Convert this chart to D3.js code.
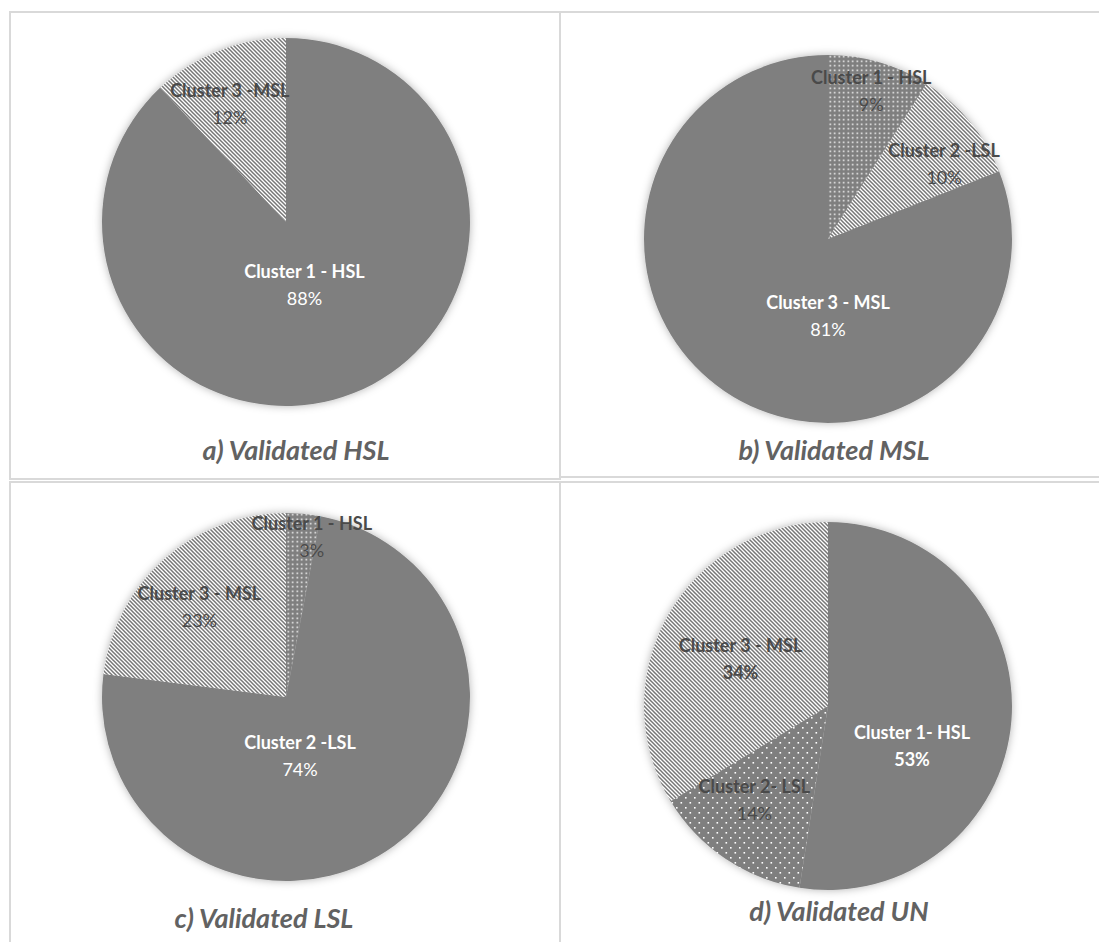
<!DOCTYPE html>
<html>
<head>
<meta charset="utf-8">
<script src="https://cdn.jsdelivr.net/npm/d3@7"></script>
<style>
  body { margin: 0; background: #fff; }
  svg text { font-family: Lato, "Open Sans", sans-serif; }
</style>
</head>
<body>
<div id="chart"></div>
<script>
// Data
const PANEL_TITLES = ["a) Validated HSL", "b) Validated MSL", "c) Validated LSL", "d) Validated UN"];
const SLICE_NAMES = [
    ["Cluster 1 - HSL", "Cluster 3 -MSL"],
    ["Cluster 1 - HSL", "Cluster 2 -LSL", "Cluster 3 - MSL"],
    ["Cluster 1 - HSL", "Cluster 2 -LSL", "Cluster  3 - MSL"],
    ["Cluster 1- HSL", "Cluster 2- LSL", "Cluster 3 - MSL"]
];
const SLICE_VALUES = [
    [88, 12],
    [9, 10, 81],
    [3, 74, 23],
    [53, 14, 34]
];
const SLICE_FILLS = [
    ["solid", "hatch"],
    ["dots", "hatch", "solid"],
    ["dots", "solid", "hatch"],
    ["solid", "dotsSparse", "hatch"]
];

// Layout
const FRAME_WIDTH = 1099;
const FRAME_HEIGHT = 942;
const RADIUS = 184;
const PANELS = [
    { cx: 286, cy: 222, tx: 296, ty: 460 },
    { cx: 828, cy: 239, tx: 834, ty: 460 },
    { cx: 286, cy: 697, tx: 264, ty: 928 },
    { cx: 828, cy: 706, tx: 839, ty: 921 }
];
// label anchor per slice: [angle in degrees clockwise from 12 o'clock, distance from centre]
const LABEL_ANCHORS = [
    [[163, 63], [-25, 133]],
    [[16, 157], [56, 140], [180, 74]],
    [[9, 165], [166, 58], [-43, 127]],
    [[114, 92], [219, 117], [300, 101]]
];
const PCT_BOLD = [
    [false, false],
    [false, false, false],
    [false, false, false],
    [true, false, true]
];

const SVG = d3.select("#chart")
    .append("svg")
    .attr("width", FRAME_WIDTH)
    .attr("height", FRAME_HEIGHT);

const defs = SVG.append("defs");

// diagonal hatch
const hatch = defs.append("pattern")
    .attr("id", "hatch")
    .attr("patternUnits", "userSpaceOnUse")
    .attr("width", 4).attr("height", 4);
hatch.append("rect").attr("width", 4).attr("height", 4).attr("fill", "#fff");
hatch.append("path")
    .attr("d", "M-1,-1 L5,5 M-1,3 L1,5 M3,-1 L5,1")
    .attr("stroke", "#777")
    .attr("stroke-width", 1.5);

// dense dots
const dots = defs.append("pattern")
    .attr("id", "dots")
    .attr("patternUnits", "userSpaceOnUse")
    .attr("width", 4.5).attr("height", 4.5);
dots.append("rect").attr("width", 4.5).attr("height", 4.5).attr("fill", "#7f7f7f");
dots.append("rect").attr("x", 1.5).attr("y", 1.5).attr("width", 1.5).attr("height", 1.5).attr("fill", "#fff");

// sparse staggered dots
const dotsSparse = defs.append("pattern")
    .attr("id", "dotsSparse")
    .attr("patternUnits", "userSpaceOnUse")
    .attr("width", 9).attr("height", 10);
dotsSparse.append("rect").attr("width", 9).attr("height", 10).attr("fill", "#7f7f7f");
dotsSparse.append("rect").attr("x", 1).attr("y", 1).attr("width", 1.6).attr("height", 1.6).attr("fill", "#fff");
dotsSparse.append("rect").attr("x", 5.5).attr("y", 6).attr("width", 1.6).attr("height", 1.6).attr("fill", "#fff");

// soft shadow round each pie
const shadow = defs.append("filter")
    .attr("id", "shadow")
    .attr("x", "-20%").attr("y", "-20%")
    .attr("width", "140%").attr("height", "140%");
shadow.append("feGaussianBlur").attr("in", "SourceAlpha").attr("stdDeviation", 4).attr("result", "blur");
shadow.append("feFlood").attr("flood-color", "#000").attr("flood-opacity", 0.3);
shadow.append("feComposite").attr("in2", "blur").attr("operator", "in").attr("result", "glow");
const merge = shadow.append("feMerge");
merge.append("feMergeNode").attr("in", "glow");
merge.append("feMergeNode").attr("in", "SourceGraphic");

const FILL = { solid: "#7f7f7f", hatch: "url(#hatch)", dots: "url(#dots)", dotsSparse: "url(#dotsSparse)" };

// panel frames
const BORDER = "#d9d9d9";
const frames = [
    [10, 12, 550, 467],
    [560, 12, 545, 465],
    [10, 482, 550, 470],
    [560, 482, 545, 470]
];
SVG.selectAll("rect.frame")
    .data(frames)
    .enter()
    .append("rect")
    .attr("class", "frame")
    .attr("x", d => d[0])
    .attr("y", d => d[1])
    .attr("width", d => d[2])
    .attr("height", d => d[3])
    .attr("fill", "none")
    .attr("stroke", BORDER)
    .attr("stroke-width", 2);

const pie = d3.pie().sort(null).value(d => d);
const arc = d3.arc().innerRadius(0).outerRadius(RADIUS);

function build_panel(i) {
    const p = PANELS[i];
    const g = SVG.append("g").attr("transform", "translate(" + p.cx + "," + p.cy + ")");
    const arcs = pie(SLICE_VALUES[i]);

    g.append("g")
        .attr("filter", "url(#shadow)")
        .selectAll("path")
        .data(arcs)
        .enter()
        .append("path")
        .attr("d", arc)
        .attr("fill", (d, j) => FILL[SLICE_FILLS[i][j]]);

    const labels = g.selectAll("g.label")
        .data(arcs)
        .enter()
        .append("g")
        .attr("class", "label")
        .attr("transform", (d, j) => {
            const a = LABEL_ANCHORS[i][j][0] * Math.PI / 180;
            const r = LABEL_ANCHORS[i][j][1];
            return "translate(" + (r * Math.sin(a)) + "," + (-r * Math.cos(a)) + ")";
        });

    const color = (j) => SLICE_FILLS[i][j] === "solid" ? "#ffffff" : "#4a4a4a";

    labels.append("text")
        .attr("text-anchor", "middle")
        .attr("y", -4)
        .attr("font-size", "18px")
        .attr("font-weight", "bold")
        .attr("fill", (d, j) => color(j))
        .text((d, j) => SLICE_NAMES[i][j]);

    labels.append("text")
        .attr("text-anchor", "middle")
        .attr("y", 23)
        .attr("font-size", "18px")
        .attr("font-weight", (d, j) => PCT_BOLD[i][j] ? "bold" : "normal")
        .attr("fill", (d, j) => color(j))
        .text(d => d.data + "%");

    SVG.append("text")
        .attr("x", p.tx)
        .attr("y", p.ty)
        .attr("text-anchor", "middle")
        .attr("font-size", "27px")
        .attr("font-weight", "bold")
        .attr("font-style", "italic")
        .attr("fill", "#626262")
        .text(PANEL_TITLES[i]);
}

PANELS.forEach((p, i) => build_panel(i));
</script>
</body>
</html>
